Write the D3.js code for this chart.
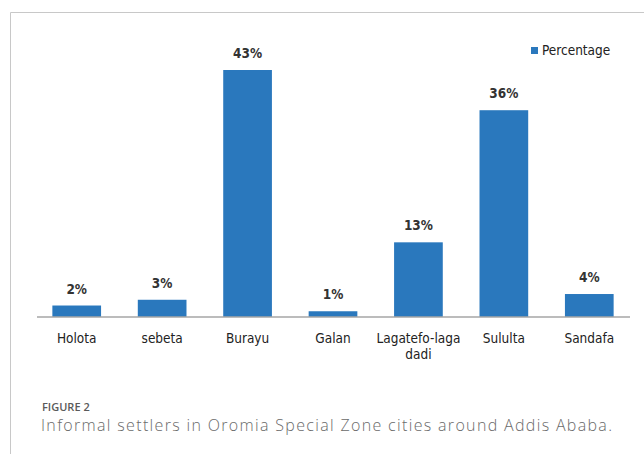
<!DOCTYPE html>
<html>
<head>
<meta charset="utf-8">
<script src="https://cdn.jsdelivr.net/npm/d3@7"></script>
<style>
	body { margin: 0; background: #fff; }
</style>
</head>
<body>
<div id="chart"></div>
<script>
const width = 644, height = 454;

// data
const cities = ["Holota", "sebeta", "Burayu", "Galan", "Lagatefo-laga dadi", "Sululta", "Sandafa"];
const percentages = [2, 3, 43, 1, 13, 36, 4];
const seriesName = "Percentage";

const svg = d3.select("#chart")
	.append("svg")
	.attr("width", width)
	.attr("height", height);

// panel frame (top and left edges only)
svg.append("path")
	.attr("d", "M10.5,454 V12.5 H644")
	.attr("fill", "none")
	.attr("stroke", "#c8c8c8")
	.attr("stroke-width", 1);

const x = d3.scaleBand()
	.domain(cities)
	.range([34, 632])
	.paddingInner(0.43)
	.paddingOuter(0.215);

const y = d3.scaleLinear()
	.domain([0, 43])
	.range([317, 70]);

const font = "'DejaVu Sans Condensed', 'Liberation Sans Narrow', Arial, sans-serif";

// bars
svg.selectAll(".bar")
	.data(percentages)
	.enter()
	.append("rect")
	.classed("bar", true)
	.attr("x", (d, i) => x(cities[i]))
	.attr("y", (d) => y(d))
	.attr("width", x.bandwidth())
	.attr("height", (d) => y(0) - y(d))
	.attr("fill", "#2a78bd");

// value labels
svg.selectAll(".val")
	.data(percentages)
	.enter()
	.append("text")
	.classed("val", true)
	.attr("x", (d, i) => x(cities[i]) + x.bandwidth() / 2)
	.attr("y", (d) => y(d) - 12)
	.attr("text-anchor", "middle")
	.attr("font-family", font)
	.attr("font-size", 13.5)
	.attr("font-weight", "bold")
	.attr("fill", "#333")
	.text((d) => d + "%");

// x axis baseline
const xAxis = svg.append("g")
	.attr("transform", "translate(0,317)")
	.call(d3.axisBottom(x).tickSize(0).tickSizeOuter(0).tickPadding(16));

xAxis.select(".domain")
	.attr("stroke", "#a6a6a6")
	.attr("stroke-width", 1.5)
	.attr("d", "M37,0H630");

xAxis.selectAll(".tick text")
	.attr("font-family", font)
	.attr("font-size", 13.5)
	.attr("fill", "#222")
	.each(function(d) {
		// wrap the long label onto two lines
		if (d === "Lagatefo-laga dadi") {
			const t = d3.select(this);
			t.text(null);
			t.append("tspan").attr("x", 0).attr("dy", "0.71em").text("Lagatefo-laga");
			t.append("tspan").attr("x", 0).attr("dy", "1.2em").text("dadi");
			t.attr("dy", null);
		}
	});

// legend
const legend = svg.append("g")
	.attr("transform", "translate(531,47)");

legend.append("rect")
	.attr("width", 7)
	.attr("height", 7)
	.attr("y", 0)
	.attr("fill", "#2a78bd");

legend.append("text")
	.attr("x", 11)
	.attr("y", 8)
	.attr("font-family", font)
	.attr("font-size", 13.5)
	.attr("fill", "#222")
	.text(seriesName);

// caption
svg.append("text")
	.attr("x", 42)
	.attr("y", 411)
	.attr("font-family", "'Open Sans', sans-serif")
	.attr("font-weight", 600)
	.attr("font-size", 11)
	.attr("fill", "#5a5a5a")
	.text("FIGURE 2");

svg.append("text")
	.attr("x", 41)
	.attr("y", 431)
	.attr("font-family", "'Open Sans', sans-serif")
	.attr("font-weight", 300)
	.attr("font-size", 16)
	.attr("textLength", 571)
	.attr("lengthAdjust", "spacing")
	.attr("fill", "#6a6a6a")
	.text("Informal settlers in Oromia Special Zone cities around Addis Ababa.");
</script>
</body>
</html>
